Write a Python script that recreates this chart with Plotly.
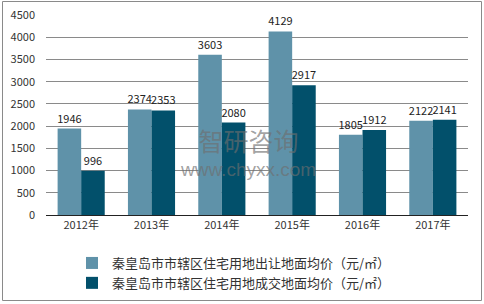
import plotly.graph_objects as go

years = ["2012年", "2013年", "2014年", "2015年", "2016年", "2017年"]
transfer_price = [1946, 2374, 3603, 4129, 1805, 2122]
deal_price = [996, 2353, 2080, 2917, 1912, 2141]
series_names = [
    "秦皇岛市市辖区住宅用地出让地面均价（元/㎡）",
    "秦皇岛市市辖区住宅用地成交地面均价（元/㎡）",
]
y_ticks = [0, 500, 1000, 1500, 2000, 2500, 3000, 3500, 4000, 4500]

FONT = "Noto Sans CJK SC, Microsoft YaHei, sans-serif"
C1 = "#5F92A9"
C2 = "#02506B"

fig = go.Figure()
for name, vals, col in [(series_names[0], transfer_price, C1), (series_names[1], deal_price, C2)]:
    fig.add_trace(go.Bar(
        x=years, y=vals, name=name, marker=dict(color=col, line=dict(width=0)),
        text=[str(v) for v in vals], textposition="outside", constraintext="none",
        cliponaxis=False, textfont=dict(size=11, color="#222222", family=FONT),
    ))

L, R, T, B = 46, 468, 15, 215
W, H = 484, 304
def px(x):
    return (x - L) / (R - L)
def py(y):
    return (B - y) / (B - T)

# watermark (single text block)
fig.add_annotation(
    xref="paper", yref="paper", x=px(248), y=py(151), xanchor="center", yanchor="middle",
    showarrow=False,
    text="<span style='font-size:25px'>智研咨询</span><br>"
         "<span style='font-size:19px;font-family:Liberation Sans'>www.chyxx.com</span>",
    font=dict(size=19, color="rgba(110,110,110,0.65)", family=FONT), align="center",
)

# outer frame
fig.add_shape(type="rect", xref="paper", yref="paper", x0=px(2.5), x1=px(481.5), y0=py(300.5), y1=py(1.5),
              line=dict(color="#8a8a8a", width=1), fillcolor="rgba(0,0,0,0)", layer="below")

fig.update_layout(
    width=W, height=H,
    margin=dict(l=L, r=W - R, t=T, b=H - B, autoexpand=False),
    paper_bgcolor="white", plot_bgcolor="white",
    barmode="group", bargap=0.33, bargroupgap=0,
    font=dict(family=FONT, size=11, color="#333333"),
    showlegend=True,
    legend=dict(orientation="v", xref="container", yref="container",
                x=72 / W, xanchor="left", y=1 - 248 / H, yanchor="top",
                font=dict(size=13, color="#333333", family=FONT), itemwidth=30,
                tracegroupgap=0, bgcolor="rgba(0,0,0,0)"),
    xaxis=dict(showline=True, linecolor="#222222", linewidth=1, ticks="", showgrid=False,
               tickfont=dict(size=11, color="#333333")),
    yaxis=dict(range=[0, 4500], tickvals=y_ticks, showgrid=True, gridcolor="#8a8a8a", gridwidth=1,
               zeroline=False, showline=False, ticks="", ticklabelstandoff=10,
               tickfont=dict(size=11, color="#333333")),
)

fig.write_html("out.html")
